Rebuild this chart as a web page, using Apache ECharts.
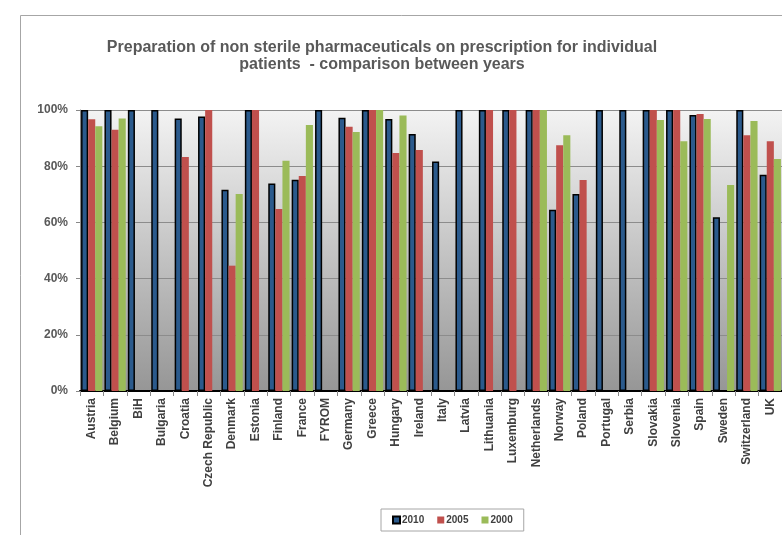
<!DOCTYPE html>
<html>
<head>
<meta charset="utf-8">
<script src="https://cdn.jsdelivr.net/npm/echarts@6/dist/echarts.min.js"></script>
<style>
  html, body { margin: 0; padding: 0; background: #fff; }
  #chart { width: 782px; height: 535px; }
</style>
</head>
<body>
<div id="chart"></div>
<script>
const countries = ['Austria', 'Belgium', 'BiH', 'Bulgaria', 'Croatia', 'Czech Republic', 'Denmark', 'Estonia',
  'Finland', 'France', 'FYROM', 'Germany', 'Greece', 'Hungary', 'Ireland', 'Italy', 'Latvia', 'Lithuania',
  'Luxemburg', 'Netherlands', 'Norway', 'Poland', 'Portugal', 'Serbia', 'Slovakia', 'Slovenia', 'Spain',
  'Sweden', 'Switzerland', 'UK'];

// percentages, null = no bar
const y2010 = [100, 100, 100, 100, 97, 97.7, 71.6, 100, 73.8, 75.2, 100, 97.2, 100, 96.8, 91.5, 81.7, 100, 100,
  100, 100, 64.5, 70.1, 100, 100, 100, 100, 98.2, 61.8, 100, 77];
const y2005 = [96.7, 93, null, null, 83.3, 100, 44.6, 100, 64.8, 76.5, null, 94, 100, 84.7, 85.8, null, null, 100,
  100, 100, 87.5, 75.1, null, null, 100, 100, 98.6, null, 91, 88.9];
const y2000 = [94.2, 97, null, null, null, null, 70.1, null, 81.9, 94.7, null, 92.2, 100, 98, null, null, null, null,
  null, 100, 91, null, null, null, 96.4, 88.9, 96.8, 73.3, 96.1, 82.6];

const yTicks = [0, 20, 40, 60, 80, 100];

const chart = echarts.init(document.getElementById('chart'));

const option = {
  backgroundColor: '#fff',
  animation: false,
  textStyle: { fontFamily: 'Liberation Sans, Arial, sans-serif' },
  title: {
    text: 'Preparation of non sterile pharmaceuticals on prescription for individual\npatients  - comparison between years',
    left: 377,
    textAlign: 'center',
    top: 34,
    textStyle: { fontSize: 16, fontWeight: 'bold', color: '#595959', lineHeight: 17 }
  },
  graphic: [{
    type: 'rect',
    shape: { x: 20.5, y: 15.5, width: 800, height: 600 },
    style: { fill: 'none', stroke: '#a6a6a6', lineWidth: 1 },
    silent: true
  }],
  legend: {
    left: 381,
    top: 509,
    borderColor: '#a6a6a6',
    borderWidth: 1,
    padding: [6, 11, 6, 11],
    itemWidth: 7,
    itemHeight: 7,
    itemGap: 13,
    icon: 'rect',
    textStyle: { fontSize: 10, fontWeight: 'bold', color: '#404040', padding: [0, 0, 0, -3] },
    data: ['2010', '2005', '2000']
  },
  grid: {
    left: 80,
    top: 110,
    width: 703,
    height: 281,
    show: true,
    borderWidth: 0,
    backgroundColor: new echarts.graphic.LinearGradient(0, 0, 0, 1, [
      { offset: 0, color: '#f3f3f3' },
      { offset: 1, color: '#969696' }
    ])
  },
  xAxis: {
    type: 'category',
    data: countries,
    axisLine: { lineStyle: { color: '#000', width: 2 } },
    axisTick: { show: true, interval: 0, length: 5, lineStyle: { color: '#888' } },
    axisLabel: {
      interval: 0,
      rotate: 90,
      margin: 7,
      fontSize: 12,
      fontWeight: 'bold',
      color: '#404040'
    }
  },
  yAxis: {
    type: 'value',
    min: yTicks[0],
    max: yTicks[yTicks.length - 1],
    interval: 20,
    axisLine: { show: true, lineStyle: { color: '#888' } },
    axisTick: { show: true, length: 4, lineStyle: { color: '#888' } },
    axisLabel: {
      formatter: '{value}%',
      fontSize: 12,
      fontWeight: 'bold',
      color: '#595959',
      margin: 12
    },
    splitLine: { lineStyle: { color: '#8c8c8c' } }
  },
  series: [
    {
      name: '2010', type: 'bar', data: y2010,
      barCategoryGap: '9%', barGap: '0%',
      itemStyle: { color: '#2b5a8c', borderColor: '#000', borderWidth: 1.5 }
    },
    {
      name: '2005', type: 'bar', data: y2005,
      itemStyle: { color: '#c0504d' }
    },
    {
      name: '2000', type: 'bar', data: y2000,
      itemStyle: { color: '#9bbb59' }
    }
  ]
};

chart.setOption(option);

window.addEventListener('resize', () => {
  chart.resize();
});
</script>
</body>
</html>
